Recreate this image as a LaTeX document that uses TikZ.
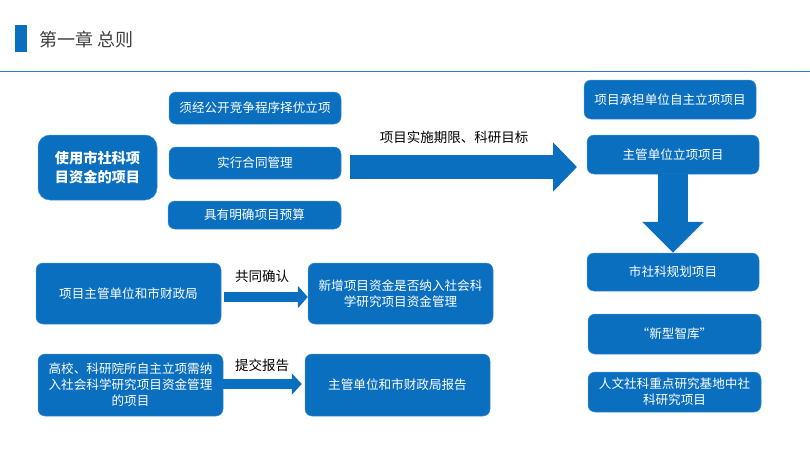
\documentclass[tikz,border=0pt]{standalone}
\usepackage{fontspec}
\setmainfont{Noto Sans CJK SC}
\usetikzlibrary{arrows.meta}
\definecolor{mainblue}{HTML}{0B6FC0}
\definecolor{edgeblue}{HTML}{3F8ED3}
\definecolor{titlegray}{HTML}{404040}
\definecolor{ruleblue}{HTML}{2E7CC4}
\begin{document}
\begin{tikzpicture}[x=1pt,y=-1pt,
  bluebox/.style={fill=mainblue, draw=edgeblue, line width=0.5pt, rounded corners=7pt,
    text=white, align=center, inner sep=0pt, font=\fontsize{12.6}{16}\selectfont},
  blockarrow/.style={draw=mainblue, line width=#1},
  lbl/.style={text=black, inner sep=0pt, font=\fontsize{13.5}{16}\selectfont}
]
\useasboundingbox (0,0) rectangle (810,456);
% header
\fill[mainblue] (15,25) rectangle (27,52);
\node[anchor=west, text=titlegray, inner sep=0pt, font=\fontsize{18}{20}\selectfont] (title) at (39,40) {第一章 总则};
\draw[ruleblue, line width=1.4pt] (0,71.5) -- (810,71.5);

% top-left group
\node[bluebox, minimum width=119pt, minimum height=65pt, rounded corners=12pt,
  font=\fontsize{14.2}{19}\selectfont\bfseries] (main) at (97.5,167.5) {使用市社科项\\目资金的项目};
\node[bluebox, minimum width=172pt, minimum height=32pt] (b1) at (255,108) {须经公开竞争程序择优立项};
\node[bluebox, minimum width=172pt, minimum height=32pt] (b2) at (255,163) {实行合同管理};
\node[bluebox, minimum width=173pt, minimum height=28pt] (b3) at (254.5,215) {具有明确项目预算};

% right column
\node[bluebox, minimum width=172pt, minimum height=39pt] (ra) at (670,99.5) {项目承担单位自主立项项目};
\node[bluebox, minimum width=172pt, minimum height=39pt] (rb) at (673,154.5) {主管单位立项项目};
\node[bluebox, minimum width=172pt, minimum height=38pt] (rc) at (673,272) {市社科规划项目};
\node[bluebox, minimum width=173pt, minimum height=40pt] (rd) at (674.5,334) {“新型智库”};
\node[bluebox, minimum width=173pt, minimum height=40pt] (re) at (674.5,392) {人文社科重点研究基地中社\\科研究项目};

% bottom-left groups
\node[bluebox, minimum width=185pt, minimum height=61pt] (f) at (128.5,293.5) {项目主管单位和市财政局};
\node[bluebox, minimum width=185pt, minimum height=61pt] (g) at (400.5,293.5) {新增项目资金是否纳入社会科\\学研究项目资金管理};
\node[bluebox, minimum width=185pt, minimum height=62pt] (h) at (130.5,385) {高校、科研院所自主立项需纳\\入社会科学研究项目资金管理\\的项目};
\node[bluebox, minimum width=185pt, minimum height=62pt] (i) at (397.5,385) {主管单位和市财政局报告};

% block arrows
\coordinate (bigs) at (350,167);
\coordinate (bige) at (577,167);
\draw[blockarrow=24pt, -{Triangle[length=24pt,width=48pt]}] (bigs) -- (bige);
\node[lbl] (biglbl) at (454,137) {项目实施期限、科研目标};

\draw[blockarrow=30pt, -{Triangle[length=31pt,width=60pt]}] (rb.south) -- (rc.north);

\draw[blockarrow=10pt, -{Triangle[length=10pt,width=22pt]}] (f.east |- 0,297) ++(3,0) coordinate (fa) -- (g.west |- 0,297);
\node[lbl] (flbl) at (262,276) {共同确认};

\draw[blockarrow=10pt, -{Triangle[length=10pt,width=21pt]}] (h.east |- 0,384) -- ([xshift=-3pt]i.west |- 0,384);
\node[lbl] (hlbl) at (262,365) {提交报告};
\end{tikzpicture}
\end{document}
